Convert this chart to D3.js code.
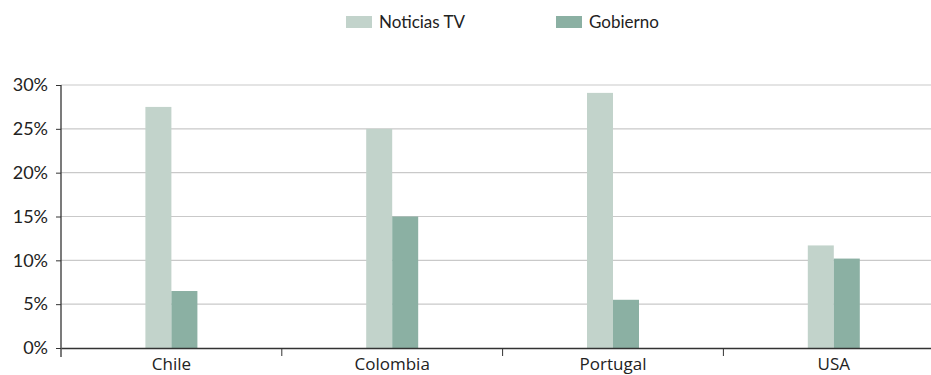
<!DOCTYPE html>
<html>
<head>
<meta charset="utf-8">
<script src="https://cdn.jsdelivr.net/npm/d3@7"></script>
<style>
  body { margin: 0; background: #fff; }
  svg { display: block; }
</style>
</head>
<body>
<svg width="931" height="375"></svg>
<script>
// data
var countries = ["Chile", "Colombia", "Portugal", "USA"];
var series = ["Noticias TV", "Gobierno"];
var noticiasTV = [27.5, 25.0, 29.1, 11.7];
var gobierno = [6.5, 15.0, 5.5, 10.2];
var yTicks = [0, 5, 10, 15, 20, 25, 30];
var colors = ["#c2d3cb", "#8bb0a3"];

var svg = d3.select("svg");

var margin = { top: 85, left: 61 };
var plotHeight = 263;
var bandWidth = 220.8;
var plotWidth = bandWidth * countries.length;

var x = d3.scaleBand().domain(countries).range([0, plotWidth]);
var xSeries = d3.scaleBand().domain(series).range([0, 52]);
var y = d3.scaleLinear().domain([0, 30]).range([plotHeight, 0]);

var plot = svg.append("g")
  .attr("transform", "translate(" + margin.left + "," + margin.top + ")");

// gridlines
plot.append("g").selectAll("line")
  .data(yTicks.slice(1))
  .join("line")
  .attr("x1", 0).attr("x2", plotWidth)
  .attr("y1", function(d) { return y(d); })
  .attr("y2", function(d) { return y(d); })
  .attr("stroke", "#c9c9c9")
  .attr("stroke-width", 1.2);

// bars
var rows = countries.map(function(c, i) {
  return { country: c, values: [noticiasTV[i], gobierno[i]] };
});

var groups = plot.selectAll("g.country")
  .data(rows)
  .join("g")
  .attr("class", "country")
  .attr("transform", function(d) {
    return "translate(" + (x(d.country) + x.bandwidth() / 2 - 26) + ",0)";
  });

groups.selectAll("rect")
  .data(function(d) { return d.values.map(function(v, j) { return { s: series[j], v: v, j: j }; }); })
  .join("rect")
  .attr("x", function(d) { return xSeries(d.s); })
  .attr("width", xSeries.bandwidth())
  .attr("y", function(d) { return y(d.v); })
  .attr("height", function(d) { return plotHeight - y(d.v); })
  .attr("fill", function(d) { return colors[d.j]; });

// y axis
var yAxis = d3.axisLeft(y)
  .tickValues(yTicks)
  .tickSize(5)
  .tickPadding(8)
  .tickFormat(function(d) { return d + "%"; });

var yg = plot.append("g").call(yAxis);
yg.select(".domain").remove();
yg.selectAll(".tick line").attr("stroke", "#333");
yg.selectAll("text")
  .attr("fill", "#222")
  .style("font-family", "Lato, 'Noto Sans', sans-serif")
  .style("font-size", "18px");

plot.append("line")
  .attr("x1", 0).attr("x2", 0)
  .attr("y1", 0).attr("y2", plotHeight + 9)
  .attr("stroke", "#333").attr("stroke-width", 1.3);

// x axis
var xAxis = d3.axisBottom(x).tickSize(0).tickPadding(10);
var xg = plot.append("g")
  .attr("transform", "translate(0," + plotHeight + ")")
  .call(xAxis);
xg.select(".domain").attr("stroke", "#333").attr("stroke-width", 1.3);
xg.selectAll("text")
  .attr("fill", "#222")
  .style("font-family", "'Open Sans', sans-serif")
  .style("font-size", "17px");

// category separators
xg.selectAll("line.sep")
  .data(countries.slice(1))
  .join("line")
  .attr("class", "sep")
  .attr("x1", function(d) { return x(d); })
  .attr("x2", function(d) { return x(d); })
  .attr("y1", 0).attr("y2", 8)
  .attr("stroke", "#333");

// legend
var legend = svg.append("g").attr("transform", "translate(346,16)");
var items = legend.selectAll("g")
  .data(series)
  .join("g")
  .attr("transform", function(d, i) { return "translate(" + (i * 210) + ",0)"; });
items.append("rect")
  .attr("width", 26).attr("height", 12)
  .attr("fill", function(d, i) { return colors[i]; });
items.append("text")
  .attr("x", 33).attr("y", 12)
  .attr("fill", "#222")
  .style("font-family", "Lato, 'Noto Sans', sans-serif")
  .style("font-size", "17px")
  .text(function(d) { return d; });
</script>
</body>
</html>
